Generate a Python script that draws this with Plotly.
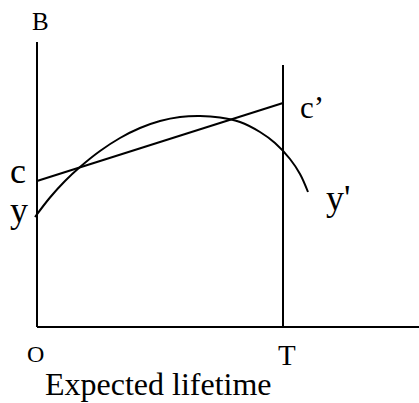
import plotly.graph_objects as go

# Geometry (origin O at bottom-left of the axes, units ~ px)
T_POS = 246
Y_AXIS_TOP = 285
X_AXIS_END = 382
T_LINE_TOP = 262

# Straight line c -> c'
line_x = [0, 246]
line_y = [146, 224]

# Curve y -> y'
curve_x = [-2, 13, 28, 43, 63, 83, 103, 123, 143, 163, 183, 203, 223, 238, 253, 263, 271]
curve_y = [110, 129.5, 146, 160, 176, 189, 199, 206, 210, 211, 209.5, 205, 195, 184, 168, 153, 135]

FONT = "Liberation Serif"
BLACK = "#000000"

fig = go.Figure()

# axes
fig.add_trace(go.Scatter(x=[0, 0], y=[0, Y_AXIS_TOP], mode="lines",
                         line=dict(color=BLACK, width=2), hoverinfo="skip"))
fig.add_trace(go.Scatter(x=[0, X_AXIS_END], y=[0, 0], mode="lines",
                         line=dict(color=BLACK, width=2), hoverinfo="skip"))
# T vertical line
fig.add_trace(go.Scatter(x=[T_POS, T_POS], y=[0, T_LINE_TOP], mode="lines",
                         line=dict(color=BLACK, width=2), hoverinfo="skip"))
# c - c' line
fig.add_trace(go.Scatter(x=line_x, y=line_y, mode="lines",
                         line=dict(color=BLACK, width=2), hoverinfo="skip"))
# y - y' curve
fig.add_trace(go.Scatter(x=curve_x, y=curve_y, mode="lines",
                         line=dict(color=BLACK, width=2, shape="spline", smoothing=1.0),
                         hoverinfo="skip"))

labels = [
    ("B", 3, 306, 25),
    ("c", -19, 156, 36),
    ("y", -18.5, 117, 36),
    ("c\u2019", 275, 220, 31),
    ("y'", 301, 129, 36),
    ("O", -2, -27, 24),
    ("T", 250, -28, 29),
    ("Expected lifetime", 121, -57, 32),
]
for text, x, y, size in labels:
    fig.add_annotation(x=x, y=y, xref="x", yref="y", text=text, showarrow=False,
                       xanchor="center", yanchor="middle",
                       font=dict(family=FONT, size=size, color=BLACK))

fig.update_layout(
    width=419, height=403,
    margin=dict(l=0, r=0, t=0, b=0),
    paper_bgcolor="white", plot_bgcolor="white",
    showlegend=False,
    xaxis=dict(range=[-37, 382], visible=False, fixedrange=True),
    yaxis=dict(range=[-76, 327], visible=False, fixedrange=True),
)

# remove the page's default body margin so the figure fills the window
fig.write_html(
    "out.html",
    config={"displayModeBar": False},
    post_script="document.body.style.margin='0';document.body.style.overflow='hidden';",
)
